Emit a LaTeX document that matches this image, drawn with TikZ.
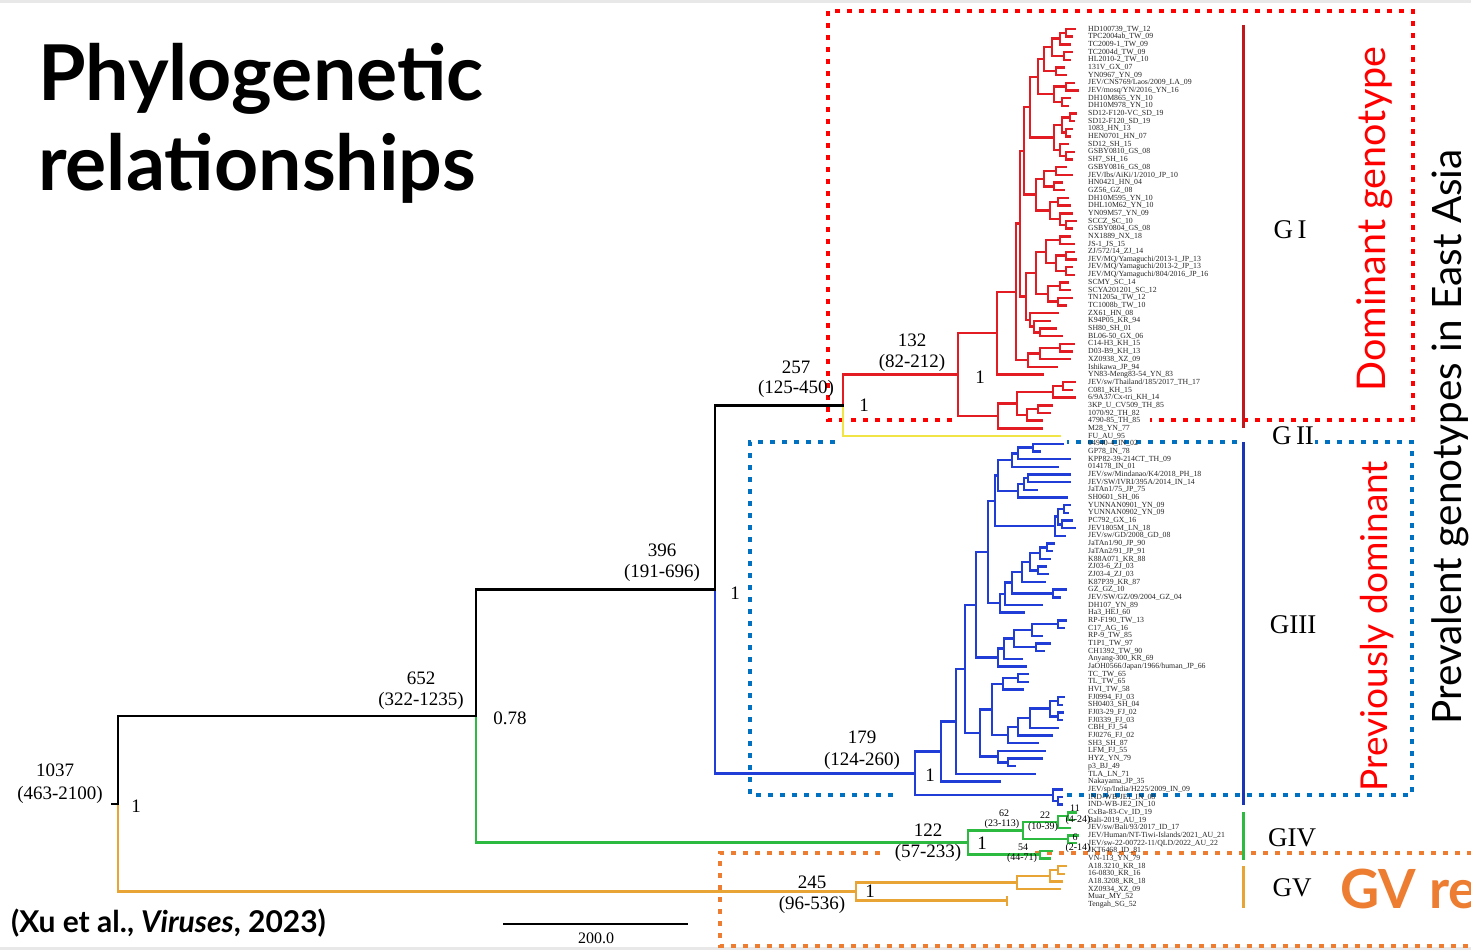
\documentclass[tikz,border=0pt]{standalone}
\usepackage{fontspec}
\setmainfont{Liberation Serif}
\newfontfamily\slidefont{Lato}
\usetikzlibrary{calc}

\definecolor{gired}{RGB}{226,28,34}
\definecolor{giiyellow}{RGB}{240,228,70}
\definecolor{giiiblue}{RGB}{32,62,215}
\definecolor{givgreen}{RGB}{44,186,64}
\definecolor{gvorange}{RGB}{232,164,52}
\definecolor{boxred}{RGB}{255,0,0}
\definecolor{boxblue}{RGB}{0,112,192}
\definecolor{boxorange}{RGB}{237,125,49}

% clade node: name, x, upper child, lower child
\newcommand\clade[4]{%
  \path let \p1=(#3), \p2=(#4) in (#2pt,{0.5*(\y1+\y2)}) coordinate (#1);
  \draw (#3) -| (#1);
  \draw (#4) -| (#1);
}
% backbone node: name, x, upper child, its colour, lower child, its colour
\newcommand\bclade[6]{%
  \path let \p1=(#3), \p2=(#5) in (#2pt,{0.5*(\y1+\y2)}) coordinate (#1);
  \draw[#4] (#3) -| (#1);
  \draw[#6] (#5) -| (#1);
}

\begin{document}
\begin{tikzpicture}[
  x=1pt, y=-1pt,
  tree/.style={line width=2.4pt, line cap=rect},
  num/.style={font=\fontsize{19}{19}\selectfont, inner sep=0pt},
  small/.style={font=\fontsize{10}{10}\selectfont, inner sep=0pt},
  leaf/.style={font=\fontsize{7.8}{7.8}\selectfont, anchor=west, inner sep=0pt, text=black!85},
  geno/.style={font=\fontsize{27}{27}\selectfont, inner sep=0pt},
  side/.style={rotate=90, inner sep=0pt},
  dotbox/.style={line width=4.5pt, dash pattern=on 5pt off 7pt},
  cladebar/.style={line width=3pt},
]
\useasboundingbox (0,0) rectangle (1471,950);
\clip (0,0) rectangle (1471,950);
\fill[white] (0,0) rectangle (1471,950);
\fill[gray!18] (0,0) rectangle (1471,3);
\fill[gray!18] (0,947) rectangle (1471,950);

% title and source
\node[anchor=base west, inner sep=0pt, font=\slidefont\bfseries\fontsize{77}{77}\selectfont] (title1) at (38,100) {Phylogenetic};
\node[anchor=base west, inner sep=0pt, font=\slidefont\bfseries\fontsize{77}{77}\selectfont] (title2) at (38,190) {relationships};
\node[anchor=base west, inner sep=0pt, font=\slidefont\bfseries\fontsize{30}{30}\selectfont] (cite) at (11,932) {(Xu et al., \textit{Viruses}, 2023)};

% dotted boxes
\draw[dotbox, boxred] (952,420) -- (828,420) -- (828,11) -- (1413,11) -- (1413,420) -- (1150,420);
\draw[dotbox, boxblue] (835,442) -- (750,442) -- (750,795) -- (893,795);
\draw[dotbox, boxblue] (1067,795) -- (1412,795) -- (1412,442) -- (1315,442);
\draw[dotbox, boxblue] (1237,442) -- (1067,442);
\draw[dotbox, boxorange] (880,853) -- (720,853) -- (720,946) -- (1471,946);
\draw[dotbox, boxorange] (1035,853) -- (1471,853);

% leaf tips
\foreach \i/\tx in {0/1075, 1/1072, 2/1070, 3/1072, 4/1070, 5/1064, 6/1066, 7/1074, 8/1078, 9/1070, 10/1068,
  11/1076, 12/1074, 13/1072, 14/1070, 15/1068, 16/1074, 17/1072,
  18/1066, 19/1072, 20/1062, 21/1064, 22/1068, 23/1070, 24/1072, 25/1076, 26/1072,
  27/1070, 28/1074, 29/1074, 30/1076, 31/1072, 32/1074, 33/1068, 34/1070, 35/1072, 36/1066,
  37/1058, 38/1050, 39/1056, 40/1062, 41/1074, 42/1072, 43/1070, 44/1057, 45/1043,
  46/1075, 47/1072, 48/1075, 49/1052, 50/1050, 51/1042, 52/1042, 53/1060,
  54/1063, 55/1040, 56/1070, 57/1058, 58/1070, 59/1070, 60/1037, 61/1067, 62/1070, 63/1068,
  64/1072, 65/1075, 66/1065, 67/1054, 68/1052, 69/1050, 70/1046, 71/1048, 72/1045, 73/1066,
  74/1060, 75/1042, 76/1024, 77/1066, 78/1064, 79/1042, 80/1050, 81/1044, 82/1022, 83/1026,
  84/1028, 85/1028, 86/1023, 87/1064, 88/1062, 89/1063, 90/1062, 91/1058, 92/1052, 93/1038,
  94/1045, 95/1042, 96/1015, 97/1035, 98/1000, 99/1062, 100/1062, 101/1062,
  102/1076, 103/1074, 104/1070, 105/1078, 106/1076, 107/1052, 108/1050,
  109/1066, 110/1064, 111/1062, 112/1060, 113/1007, 114/1007}
  \coordinate (L\i) at (\tx,{29+7.68*\i});

% leaf labels
\foreach \lab [count=\i from 0] in {HD100739\_TW\_12, TPC2004ab\_TW\_09, TC2009-1\_TW\_09, TC2004d\_TW\_09,
  HL2010-2\_TW\_10, 131V\_GX\_07, YN0967\_YN\_09, JEV/CNS769/Laos/2009\_LA\_09, JEV/mosq/YN/2016\_YN\_16,
  DH10M865\_YN\_10, DH10M978\_YN\_10, SD12-F120-VC\_SD\_19, SD12-F120\_SD\_19, 1083\_HN\_13,
  HEN0701\_HN\_07, SD12\_SH\_15, GSBY0810\_GS\_08, SH7\_SH\_16, GSBY0816\_GS\_08,
  JEV/Ibs/AiKi/1/2010\_JP\_10, HN0421\_HN\_04, GZ56\_GZ\_08, DH10M595\_YN\_10, DHL10M62\_YN\_10,
  YN09M57\_YN\_09, SCCZ\_SC\_10, GSBY0804\_GS\_08, NX1889\_NX\_18, JS-1\_JS\_15, ZJ/572/14\_ZJ\_14,
  JEV/MQ/Yamaguchi/2013-1\_JP\_13, JEV/MQ/Yamaguchi/2013-2\_JP\_13, JEV/MQ/Yamaguchi/804/2016\_JP\_16,
  SCMY\_SC\_14, SCYA201201\_SC\_12, TN1205a\_TW\_12, TC1008b\_TW\_10, ZX61\_HN\_08, K94P05\_KR\_94,
  SH80\_SH\_01, BL06-50\_GX\_06, C14-H3\_KH\_15, D03-B9\_KH\_13, XZ0938\_XZ\_09, Ishikawa\_JP\_94,
  YN83-Meng83-54\_YN\_83, JEV/sw/Thailand/185/2017\_TH\_17, C081\_KH\_15, 6/9A37/Cx-tri\_KH\_14,
  3KP\_U\_CV509\_TH\_85, 1070/92\_TH\_82, 4790-85\_TH\_85, M28\_YN\_77, FU\_AU\_95,
  04940-4\_IN\_02, GP78\_IN\_78, KPP82-39-214CT\_TH\_09, 014178\_IN\_01, JEV/sw/Mindanao/K4/2018\_PH\_18,
  JEV/SW/IVRI/395A/2014\_IN\_14, JaTAn1/75\_JP\_75, SH0601\_SH\_06, YUNNAN0901\_YN\_09, YUNNAN0902\_YN\_09,
  PC792\_GX\_16, JEV1805M\_LN\_18, JEV/sw/GD/2008\_GD\_08, JaTAn1/90\_JP\_90, JaTAn2/91\_JP\_91,
  K88A071\_KR\_88, ZJ03-6\_ZJ\_03, ZJ03-4\_ZJ\_03, K87P39\_KR\_87, GZ\_GZ\_10, JEV/SW/GZ/09/2004\_GZ\_04,
  DH107\_YN\_89, Ha3\_HEJ\_60, RP-F190\_TW\_13, C17\_AG\_16, RP-9\_TW\_85, T1P1\_TW\_97, CH1392\_TW\_90,
  Anyang-300\_KR\_69, JaOH0566/Japan/1966/human\_JP\_66, TC\_TW\_65, TL\_TW\_65, HVI\_TW\_58,
  FJ0994\_FJ\_03, SH0403\_SH\_04, FJ03-29\_FJ\_02, FJ0339\_FJ\_03, CBH\_FJ\_54, FJ0276\_FJ\_02,
  SH3\_SH\_87, LFM\_FJ\_55, HYZ\_YN\_79, p3\_BJ\_49, TLA\_LN\_71, Nakayama\_JP\_35,
  JEV/sp/India/H225/2009\_IN\_09, IND-WB-JE1\_IN\_08, IND-WB-JE2\_IN\_10,
  CxBa-83-Cv\_ID\_19, Bali-2019\_AU\_19, JEV/sw/Bali/93/2017\_ID\_17, JEV/Human/NT-Tiwi-Islands/2021\_AU\_21,
  JEV/sw-22-00722-11/QLD/2022\_AU\_22, JKT6468\_ID\_81, VN-113\_YN\_79,
  A18.3210\_KR\_18, 16-0830\_KR\_16, A18.3208\_KR\_18, XZ0934\_XZ\_09, Muar\_MY\_52, Tengah\_SG\_52}
  \node[leaf] (t\i) at (1088,{29+7.68*\i}) {\lab};

% GI
\begin{scope}[tree, gired]
\clade{r1}{1066}{L0}{L1}
\clade{r2}{1060}{r1}{L2}
\clade{r3}{1064}{L3}{L4}
\clade{r4}{1052}{r2}{r3}
\clade{r5}{1056}{L5}{L6}
\clade{r6}{1044}{r4}{r5}
\clade{r7}{1066}{L7}{L8}
\clade{r8}{1062}{L9}{L10}
\clade{r9}{1054}{r7}{r8}
\clade{r10}{1038}{r6}{r9}
\clade{r11}{1070}{L11}{L12}
\clade{r12}{1066}{L13}{L14}
\clade{r13}{1062}{r11}{r12}
\clade{r14}{1066}{L16}{L17}
\clade{r15}{1060}{L15}{r14}
\clade{r16}{1054}{r13}{r15}
\clade{r17}{1030}{r10}{r16}
\clade{r18}{1056}{L18}{L19}
\clade{r19}{1054}{L20}{L21}
\clade{r20}{1044}{r18}{r19}
\clade{r21}{1058}{L22}{L23}
\clade{r22}{1066}{L25}{L26}
\clade{r23}{1060}{L24}{r22}
\clade{r24}{1050}{r21}{r23}
\clade{r25}{1036}{r20}{r24}
\clade{r26}{1024}{r17}{r25}
\clade{r27}{1060}{L27}{L28}
\clade{r28}{1066}{L29}{L30}
\clade{r29}{1066}{L31}{L32}
\clade{r30}{1056}{r28}{r29}
\clade{r31}{1046}{r27}{r30}
\clade{r32}{1060}{L33}{L34}
\clade{r33}{1058}{L35}{L36}
\clade{r34}{1048}{r32}{r33}
\clade{r35}{1036}{r31}{r34}
\clade{r36}{1040}{L39}{L40}
\clade{r37}{1034}{L38}{r36}
\clade{r38}{1030}{L37}{r37}
\clade{r39}{1026}{r35}{r38}
\clade{r40}{1020}{r26}{r39}
\clade{r41}{1060}{L41}{L42}
\clade{r42}{1040}{r41}{L43}
\clade{r43}{1028}{r42}{L44}
\clade{r44}{1016}{r40}{r43}
\clade{r45}{997}{r44}{L45}
\clade{r46}{1063}{L46}{L47}
\clade{r47}{1053}{r46}{L48}
\clade{r48}{1038}{L49}{L50}
\clade{r49}{1027}{r48}{L51}
\clade{r50}{1017}{r47}{r49}
\clade{r51}{998}{r50}{L52}
\clade{n132}{958}{r45}{r51}
\end{scope}

% GIII
\begin{scope}[tree, giiiblue]
\clade{b1}{1033}{L54}{L55}
\clade{b2}{1018}{b1}{L56}
\clade{b3}{1012}{b2}{L57}
\clade{b4}{1028}{L58}{L59}
\clade{b5}{1024}{b4}{L60}
\clade{b6}{1018}{b5}{L61}
\clade{b7}{998}{b3}{b6}
\clade{b8}{1064}{L62}{L63}
\clade{b9}{1062}{L64}{L65}
\clade{b10}{1058}{b8}{b9}
\clade{b11}{1055}{b10}{L66}
\clade{b12}{995}{b7}{b11}
\clade{b13}{1047}{L67}{L68}
\clade{b14}{1040}{b13}{L69}
\clade{b15}{1038}{L70}{L71}
\clade{b16}{1030}{b14}{b15}
\clade{b17}{1022}{b16}{L72}
\clade{b18}{1053}{L73}{L74}
\clade{b19}{1012}{b17}{b18}
\clade{b20}{1005}{b19}{L75}
\clade{b21}{1000}{b20}{L76}
\clade{b22}{988}{b12}{b21}
\clade{b23}{1058}{L77}{L78}
\clade{b24}{1032}{b23}{L79}
\clade{b25}{1036}{L80}{L81}
\clade{b26}{1014}{b24}{b25}
\clade{b27}{1004}{b26}{L82}
\clade{b28}{998}{b27}{L83}
\clade{b29}{976}{b22}{b28}
\clade{b30}{1018}{L84}{L85}
\clade{b31}{1003}{b30}{L86}
\clade{b32}{1058}{L87}{L88}
\clade{b33}{1058}{L89}{L90}
\clade{b34}{1050}{b32}{b33}
\clade{b35}{1030}{b34}{L91}
\clade{b36}{1018}{b35}{L92}
\clade{b37}{1008}{b36}{L93}
\clade{b38}{992}{b31}{b37}
\clade{b39}{1008}{L95}{L96}
\clade{b40}{998}{L94}{b39}
\clade{b41}{980}{b38}{b40}
\clade{b42}{965}{b29}{b41}
\clade{b43}{956}{b42}{L97}
\clade{b44}{941}{b43}{L98}
\clade{b45}{1058}{L100}{L101}
\clade{b46}{1053}{L99}{b45}
\clade{n179}{915}{b44}{b46}
\end{scope}

% GIV
\begin{scope}[tree, givgreen]
\clade{g1}{1068}{L102}{L103}
\clade{g2}{1058}{g1}{L104}
\clade{g3}{1068}{L105}{L106}
\clade{g4}{1023}{g2}{g3}
\clade{g5}{1040}{L107}{L108}
\clade{n122}{968}{g4}{g5}
\end{scope}

% GV
\begin{scope}[tree, gvorange]
\clade{o1}{1058}{L109}{L110}
\clade{o2}{1050}{o1}{L111}
\clade{o3}{1017}{o2}{L112}
\clade{o4}{1007}{L113}{L114}
\clade{n245}{856}{o3}{o4}
\end{scope}

% backbone
\begin{scope}[tree]
\bclade{n257}{843}{n132}{gired}{L53}{giiyellow}
\bclade{n396}{715}{n257}{black}{n179}{giiiblue}
\bclade{n652}{476}{n396}{black}{n122}{givgreen}
\bclade{n1037}{118}{n652}{black}{n245}{gvorange}
\draw (n1037) -- ++(-6,0);
\end{scope}

% node ages and supports
\node[num] (a1037) at (55,770) {1037};
\node[num] (c1037) at (60,795) {(463-2100)};
\node[num] (p1037) at (136,806) {1};
\node[num] (a652) at (421,678) {652};
\node[num] (c652) at (421,701) {(322-1235)};
\node[num] (p652) at (510,718) {0.78};
\node[num] (a396) at (662,550) {396};
\node[num] (c396) at (662,573) {(191-696)};
\node[num] (p396) at (735,593) {1};
\node[num] (a257) at (796,367) {257};
\node[num] (c257) at (796,389) {(125-450)};
\node[num] (p257) at (864,405) {1};
\node[num] (a132) at (912,340) {132};
\node[num] (c132) at (912,363) {(82-212)};
\node[num] (p132) at (980,377) {1};
\node[num] (a179) at (862,737) {179};
\node[num] (c179) at (862,761) {(124-260)};
\node[num] (p179) at (930,775) {1};
\node[num] (a122) at (928,830) {122};
\node[num] (c122) at (928,853) {(57-233)};
\node[num] (p122) at (982,843) {1};
\node[num] (a245) at (812,882) {245};
\node[num] (c245) at (812,905) {(96-536)};
\node[num] (p245) at (870,891) {1};
\node[small] (a62) at (1004,813) {62};
\node[small] (c62) at (1002,824) {(23-113)};
\node[small] (a22) at (1045,815) {22};
\node[small] (c22) at (1043,827) {(10-39)};
\node[small] (a11) at (1075,808) {11};
\node[small] (c11) at (1078,820) {(4-24)};
\node[small] (a6) at (1075,837) {6};
\node[small] (c6) at (1078,848) {(2-14)};
\node[small] (a54) at (1023,847) {54};
\node[small] (c54) at (1022,858) {(44-71)};

% scale bar
\coordinate (sbl) at (503,924);
\coordinate (sbr) at (688,924);
\draw[line width=1.3pt] (sbl) -- (sbr);
\node[font=\fontsize{16}{16}\selectfont, inner sep=0pt] (sblab) at (596,938) {200.0};

% genotype bars and names
\draw[cladebar, gired!85!black] (1243,25) -- (1243,428);
\draw[cladebar, giiiblue!85!black] (1243,442) -- (1243,805);
\draw[cladebar, givgreen] (1243,812) -- (1243,860);
\draw[cladebar, gvorange] (1243,866) -- (1243,908);
\node[geno] (gI) at (1290,230) {G\,I};
\node[geno] (gII) at (1293,436) {G\,II};
\node[geno] (gIII) at (1293,625) {GIII};
\node[geno] (gIV) at (1292,838) {GIV};
\node[geno] (gV) at (1292,888) {GV};

% side notes
\node[side, text=boxred, font=\slidefont\fontsize{39.5}{39.5}\selectfont] (dom) at (1375,219) {Dominant genotype};
\node[side, text=boxred, font=\slidefont\fontsize{37}{37}\selectfont] (prev) at (1377,626) {Previously dominant};
\node[side, font=\slidefont\fontsize{40.5}{40.5}\selectfont] (preva) at (1450,437) {Prevalent genotypes in East Asia};
\node[anchor=base west, inner sep=0pt, text=boxorange, font=\slidefont\bfseries\fontsize{54}{54}\selectfont] (gvre) at (1340,908) {GV re};
\end{tikzpicture}
\end{document}
